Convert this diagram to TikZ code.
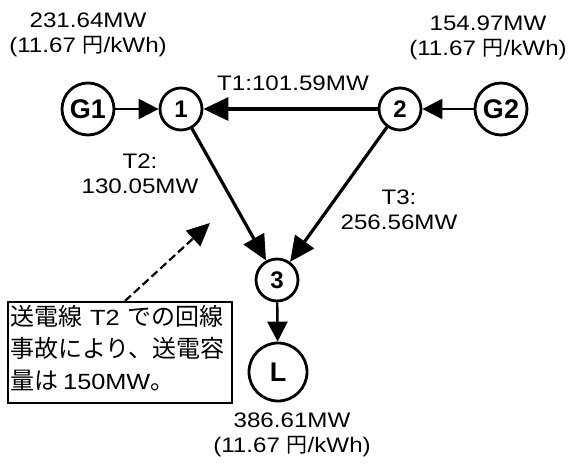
\documentclass[tikz,border=0pt]{standalone}
\usepackage{fontspec}
\setmainfont{Liberation Sans}
\newfontfamily\lblfont[FakeStretch=1.15]{Liberation Sans}
\newfontfamily\jp{Noto Sans CJK JP}
\newcommand\latpart[1]{{\lblfont\fontsize{22}{32}\selectfont #1}}
\usetikzlibrary{arrows.meta}
\tikzset{
 bus/.style={circle, draw, line width=2.8pt, minimum size=42pt, inner sep=0pt, font=\bfseries\fontsize{24}{24}\selectfont},
 gen/.style={bus, minimum size=52pt, font=\bfseries\fontsize{27}{27}\selectfont},
 lbl/.style={align=center, inner sep=0pt, font=\lblfont\fontsize{21}{25}\selectfont},
 flow/.style={line width=3.2pt, -{Triangle[length=25pt,width=23pt]}},
 inj/.style={line width=2.4pt, -{Triangle[length=20pt,width=20pt]}},
 note/.style={dash pattern=on 8pt off 4pt, line width=2.2pt, -{Triangle[length=23pt,width=21pt]}},
}
\begin{document}
\begin{tikzpicture}[x=1pt,y=-1pt]
\useasboundingbox (0,0) rectangle (571,466);
% nodes
\node[gen] (g1) at (88,109) {G1};
\node[bus] (n1) at (181,109) {1};
\node[bus] (n2) at (400,109) {2};
\node[gen] (g2) at (501,109) {G2};
\node[bus] (n3) at (277,280) {3};
\node[gen, minimum size=58pt] (ld) at (278,372) {L};
% labels
\node[lbl] (lg1) at (88,35) {231.64MW\\(11.67 {\jp 円}/kWh)};
\node[lbl] (lg2) at (488,38) {154.97MW\\(11.67 {\jp 円}/kWh)};
\node[lbl] (lld) at (292,435) {386.61MW\\(11.67 {\jp 円}/kWh)};
\node[lbl] (lt1) at (293,83) {T1:101.59MW};
\node[lbl] (lt2) at (140,174) {T2:\\130.05MW};
\node[lbl] (lt3) at (399,210) {T3:\\256.56MW};
% connectors
\draw[inj] (g1) -- (n1);
\draw[inj] (g2) -- (n2);
\draw[flow] (n2) -- (n1);
\draw[flow] (n1) -- (n3);
\draw[flow] (n2) -- (n3);
\draw[inj] (n3) -- (ld);
% note box
\node[draw, line width=2pt, minimum width=224pt, minimum height=101pt, inner sep=0pt] (box) at (120,352.5) {};
\node[anchor=north west, inner sep=0pt, align=left, font=\jp\fontsize{24}{32}\selectfont] (boxtext) at (10,305)
 {送電線\hspace{8pt}\latpart{T2}\hspace{8pt}での回線\\事故により、送電容\\量は\hspace{5pt}\latpart{150MW}。};
\coordinate (tip) at (210,223);
\draw[note] ([xshift=5pt]box.north) -- (tip);
\end{tikzpicture}
\end{document}
